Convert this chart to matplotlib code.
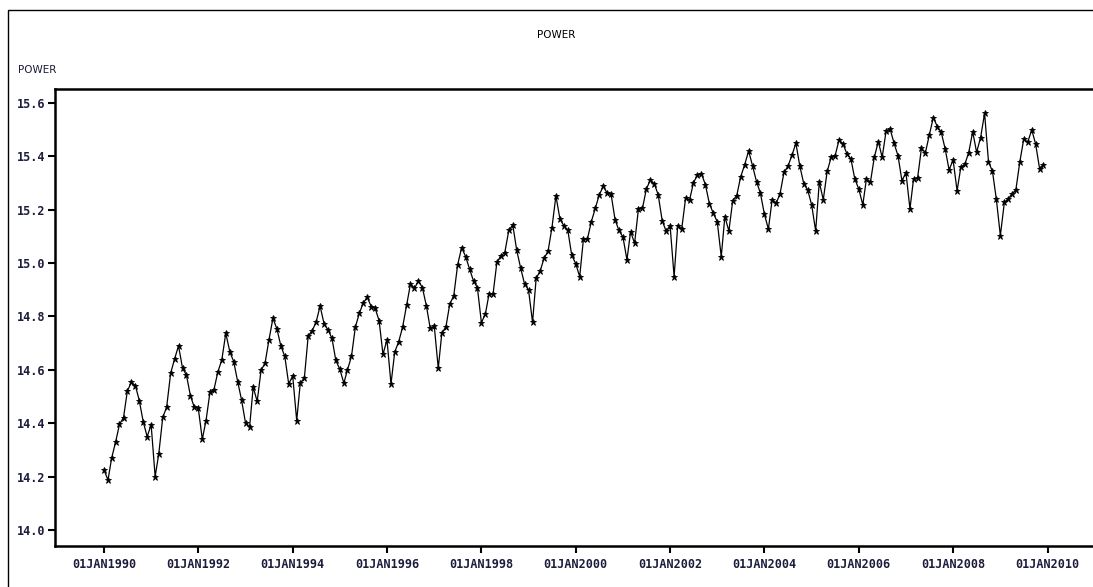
import matplotlib
matplotlib.use("Agg")
import matplotlib.pyplot as plt
import matplotlib.dates as mdates
import pandas as pd
import numpy as np

# monthly POWER series, Jan 1990 - Dec 2009
dates = pd.date_range("1990-01-01", periods=240, freq="MS")
power = [
    14.225, 14.187, 14.269, 14.330, 14.396, 14.421, 14.521, 14.553, 14.541, 14.485, 14.405, 14.350,
    14.394, 14.200, 14.285, 14.422, 14.460, 14.587, 14.640, 14.690, 14.606, 14.581, 14.503, 14.460,
    14.456, 14.340, 14.410, 14.518, 14.525, 14.593, 14.637, 14.737, 14.668, 14.631, 14.556, 14.487,
    14.400, 14.385, 14.535, 14.482, 14.598, 14.625, 14.712, 14.793, 14.753, 14.690, 14.650, 14.547,
    14.577, 14.410, 14.552, 14.568, 14.727, 14.747, 14.778, 14.839, 14.772, 14.750, 14.718, 14.635,
    14.602, 14.550, 14.600, 14.650, 14.760, 14.812, 14.850, 14.872, 14.837, 14.831, 14.784, 14.658,
    14.712, 14.547, 14.667, 14.706, 14.760, 14.843, 14.922, 14.906, 14.933, 14.908, 14.840, 14.755,
    14.764, 14.606, 14.739, 14.760, 14.846, 14.878, 14.993, 15.058, 15.024, 14.978, 14.933, 14.908,
    14.777, 14.809, 14.884, 14.883, 15.003, 15.027, 15.039, 15.122, 15.143, 15.049, 14.981, 14.922,
    14.899, 14.778, 14.943, 14.970, 15.018, 15.044, 15.132, 15.252, 15.165, 15.140, 15.123, 15.030,
    14.998, 14.949, 15.090, 15.090, 15.155, 15.205, 15.255, 15.287, 15.262, 15.258, 15.162, 15.122,
    15.097, 15.012, 15.118, 15.074, 15.203, 15.205, 15.277, 15.311, 15.297, 15.255, 15.158, 15.120,
    15.140, 14.949, 15.140, 15.128, 15.243, 15.237, 15.301, 15.330, 15.334, 15.294, 15.223, 15.187,
    15.155, 15.024, 15.174, 15.120, 15.234, 15.253, 15.322, 15.368, 15.420, 15.365, 15.305, 15.262,
    15.183, 15.127, 15.237, 15.224, 15.259, 15.340, 15.362, 15.403, 15.449, 15.364, 15.297, 15.274,
    15.218, 15.120, 15.303, 15.237, 15.343, 15.396, 15.401, 15.461, 15.446, 15.409, 15.390, 15.315,
    15.277, 15.218, 15.315, 15.303, 15.396, 15.455, 15.396, 15.496, 15.501, 15.449, 15.401, 15.308,
    15.339, 15.203, 15.315, 15.318, 15.430, 15.414, 15.480, 15.545, 15.511, 15.490, 15.427, 15.349,
    15.386, 15.271, 15.359, 15.370, 15.414, 15.492, 15.415, 15.470, 15.561, 15.380, 15.343, 15.239,
    15.103, 15.227, 15.239, 15.259, 15.274, 15.380, 15.464, 15.453, 15.499, 15.446, 15.353, 15.368,
]
yticks = [14.0, 14.2, 14.4, 14.6, 14.8, 15.0, 15.2, 15.4, 15.6]
xtick_years = list(range(1990, 2011, 2))

W, H = 1093, 587
fig = plt.figure(figsize=(W / 100, H / 100), dpi=100)

# outer frame (runs off the right and bottom edges)
fig.add_artist(plt.Rectangle((8 / W, -0.1), 1.2, 1 - 10 / H + 0.1, transform=fig.transFigure,
                             fill=False, edgecolor="black", linewidth=1.0))

ax_left, ax_right, ax_top, ax_bottom = 55, 1093, 89, 546
ax = fig.add_axes([ax_left / W, 1 - ax_bottom / H, (ax_right - ax_left) / W, (ax_bottom - ax_top) / H])
ax.plot(dates, power, color="black", linewidth=0.9, marker="*", markersize=5,
        markeredgewidth=0.6, markerfacecolor="black")

# 01JAN1990 sits at x=104 px, 01JAN2010 at x=1047.5 px
t0 = mdates.date2num(pd.Timestamp("1990-01-01"))
t1 = mdates.date2num(pd.Timestamp("2010-01-01"))
per_px = (t1 - t0) / (1047.5 - 104)
ax.set_xlim(t0 - (104 - ax_left) * per_px, t0 + (ax_right - 104) * per_px)
ax.set_ylim(13.94, 15.652)
ax.set_yticks(yticks)
ax.set_yticklabels([f"{v:.1f}" for v in yticks])
ax.set_xticks([pd.Timestamp(f"{y}-01-01") for y in xtick_years])
ax.xaxis.set_major_formatter(mdates.DateFormatter("01JAN%Y"))

for side in ["left", "top", "bottom"]:
    ax.spines[side].set_linewidth(1.8)
ax.spines["right"].set_visible(False)

lblcolor = "#1c1c3c"
ax.tick_params(axis="both", length=5, width=1.5, color="black", labelcolor=lblcolor)
ax.tick_params(axis="y", pad=2)
ax.tick_params(axis="x", pad=4)
for t in ax.get_xticklabels() + ax.get_yticklabels():
    t.set_family("DejaVu Sans Mono")
    t.set_fontweight("bold")
    t.set_fontsize(8.5)

fig.text(556 / W, 1 - 35 / H, "POWER", ha="center", va="center", fontsize=7.5,
         family="DejaVu Sans", color="black")
fig.text(18 / W, 1 - 70 / H, "POWER", ha="left", va="center", fontsize=7.5,
         family="DejaVu Sans", color=lblcolor)

fig.savefig("out.png", dpi=100)
